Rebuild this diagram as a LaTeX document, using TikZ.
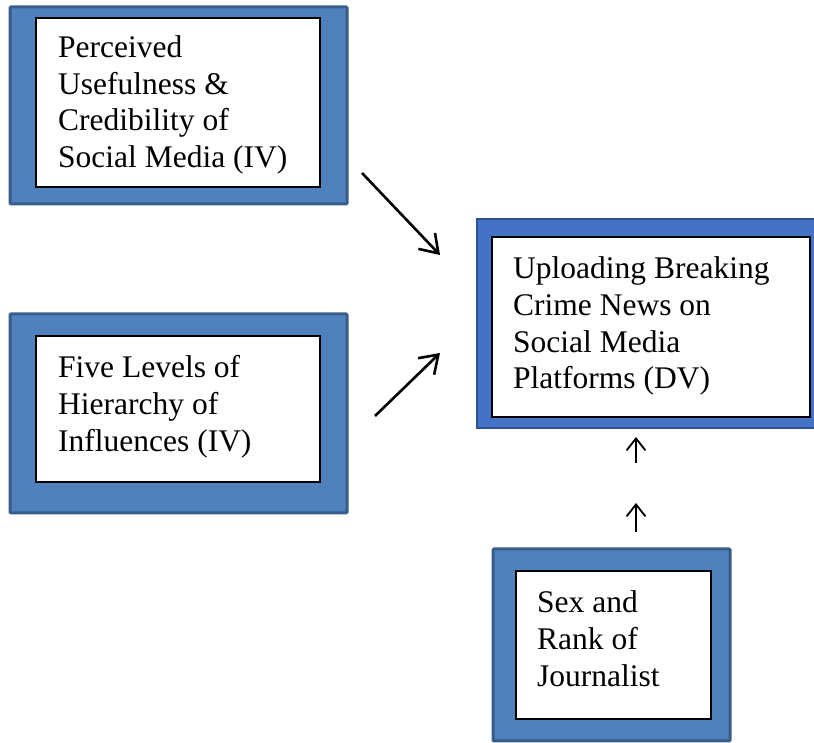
\documentclass[tikz,border=0pt]{standalone}
\usepackage{fontspec}
\setmainfont{Liberation Serif}
\usetikzlibrary{arrows.meta}
\definecolor{boxblue}{HTML}{4F81BD}
\definecolor{boxedge}{HTML}{385D8A}
\definecolor{dvblue}{HTML}{4472C4}
\definecolor{dvedge}{HTML}{2F528F}
\tikzset{
  outerbox/.style={draw=boxedge, fill=boxblue, line width=3pt, rounded corners=1pt},
  dvbox/.style={draw=dvedge, fill=dvblue, line width=2.2pt},
  innerbox/.style={draw=black, fill=white, line width=1.8pt},
  txt/.style={inner sep=0pt, anchor=base west, font=\fontsize{31.5}{36.6}\selectfont},
  bigarrow/.style={line width=2.6pt, -{Straight Barb[length=17pt,width=23pt,line width=2.6pt]}},
  smallarrow/.style={line width=1.8pt, -{Straight Barb[length=12pt,width=19pt,line width=1.8pt]}}
}
\newcommand{\lines}[1]{\begin{tabular}[t]{@{}l@{}}#1\end{tabular}}
\begin{document}
\begin{tikzpicture}[x=1pt,y=1pt]
\useasboundingbox (0,0) rectangle (814,743);
% Box 1
\path[outerbox] (10,539) rectangle (347,736);
\path[innerbox] (36,556) rectangle (320,725);
\node[txt] (t1) at (58,685.5) {\lines{Perceived\\Usefulness \&\\Credibility of\\Social Media (IV)}};
% Box 2
\path[outerbox] (10,230) rectangle (347,429);
\path[innerbox] (36,261) rectangle (320,407);
\node[txt] (t2) at (58,365) {\lines{Five Levels of\\Hierarchy of\\Influences (IV)}};
% DV box
\path[dvbox] (477,315) rectangle (822,524);
\path[innerbox] (492,326) rectangle (810,506);
\node[txt] (t3) at (513,464) {\lines{Uploading Breaking\\Crime News on\\Social Media\\Platforms (DV)}};
% Box 4
\path[outerbox] (493,2) rectangle (730,194);
\path[innerbox] (516,24) rectangle (711,172);
\node[txt] (t4) at (537,130) {\lines{Sex and\\Rank of\\Journalist}};
% arrows
\coordinate (a1s) at (362,570);
\coordinate (a1e) at (440,488);
\coordinate (a2s) at (375,327);
\coordinate (a2e) at (440,390);
\coordinate (u1s) at (636,280);
\coordinate (u1e) at (636,306);
\coordinate (u2s) at (636,211);
\coordinate (u2e) at (636,240);
\draw[bigarrow] (a1s) -- (a1e);
\draw[bigarrow] (a2s) -- (a2e);
\draw[smallarrow] (u1s) -- (u1e);
\draw[smallarrow] (u2s) -- (u2e);
\end{tikzpicture}
\end{document}
